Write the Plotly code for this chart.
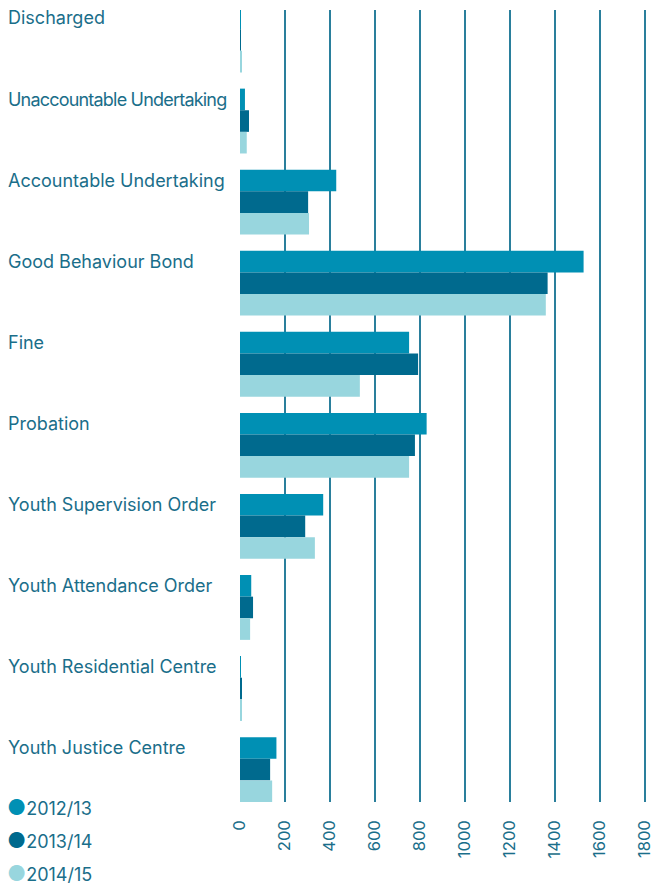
import plotly.graph_objects as go

categories = [
    "Discharged",
    "Unaccountable Undertaking",
    "Accountable Undertaking",
    "Good Behaviour Bond",
    "Fine",
    "Probation",
    "Youth Supervision Order",
    "Youth Attendance Order",
    "Youth Residential Centre",
    "Youth Justice Centre",
]
series_names = ["2012/13", "2013/14", "2014/15"]
series_colors = ["#0090b4", "#006a8e", "#98d6de"]
vals_2012 = [3, 22, 428, 1528, 752, 830, 370, 50, 4, 162]
vals_2013 = [3, 40, 303, 1368, 792, 778, 290, 58, 9, 134]
vals_2014 = [8, 30, 307, 1360, 533, 752, 333, 45, 9, 143]
tick_vals = [0, 200, 400, 600, 800, 1000, 1200, 1400, 1600, 1800]

text_color = "#1a6e8a"
font_family = "Inter, Roboto, sans-serif"

fig = go.Figure()
for name, color, vals in zip(series_names, series_colors, [vals_2012, vals_2013, vals_2014]):
    fig.add_bar(
        y=categories,
        x=vals,
        name=name,
        orientation="h",
        marker_color=color,
        marker_line_width=0,
        showlegend=False,
    )

# category labels above each group (long one squeezed to fit before the bars)
for cat in categories:
    label = cat
    if len(cat) > 24:
        label = f"<span style='letter-spacing:-0.8px'>{cat}</span>"
    fig.add_annotation(
        x=0, xref="paper", xanchor="left", xshift=-234,
        y=cat, yref="y", yanchor="middle", yshift=22,
        text=label, showarrow=False,
        font=dict(size=18, color=text_color, family=font_family),
    )

# legend with round markers
for i, (name, color) in enumerate(zip(series_names, series_colors)):
    fig.add_annotation(
        x=0, xref="paper", xanchor="left", xshift=-235,
        y=0, yref="paper", yanchor="middle", yshift=-5 - 33 * i,
        text=f"<span style='color:{color};font-size:21px'>●</span>{name}",
        showarrow=False,
        font=dict(size=18, color=text_color, family=font_family),
    )

fig.update_layout(
    width=654,
    height=885,
    barmode="group",
    bargap=0.2,
    bargroupgap=0,
    margin=dict(l=240, r=7, t=10, b=83),
    plot_bgcolor="white",
    paper_bgcolor="white",
    font=dict(family=font_family, color=text_color, size=16.5),
    xaxis=dict(
        range=[0, 1810],
        tickvals=tick_vals,
        tickangle=-90,
        showgrid=True,
        gridcolor="#2a7f9c",
        gridwidth=1.5,
        zeroline=False,
        showline=False,
        ticks="",
        ticklabelstandoff=14,
        ticklabeloverflow="allow",
        automargin=False,
        tickfont=dict(size=16.5, color=text_color),
    ),
    yaxis=dict(
        range=[9.4, -0.37],
        showticklabels=False,
        showgrid=False,
        zeroline=False,
        automargin=False,
        ticks="",
    ),
)

# drop the default body margin so the figure fills the window
fig.write_html(
    "out.html",
    config={"displayModeBar": False},
    post_script="document.body.style.margin='0';document.body.style.overflow='hidden';",
)
